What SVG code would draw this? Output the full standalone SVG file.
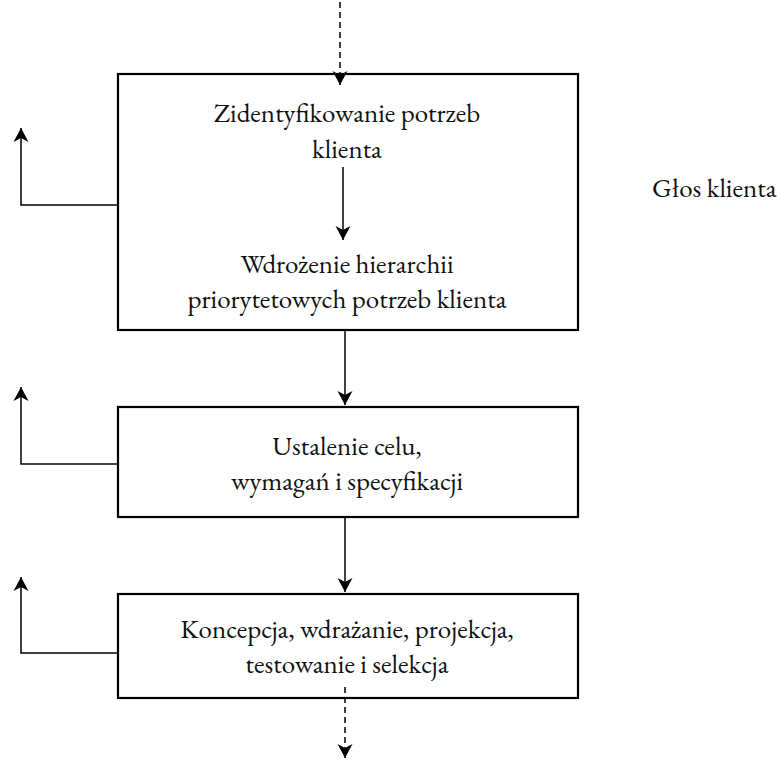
<svg xmlns="http://www.w3.org/2000/svg" width="780" height="760" viewBox="0 0 780 760">
<defs>
<style>
.box{fill:#fff;stroke:#000;stroke-width:2.2}
.ln{fill:none;stroke:#000;stroke-width:1.5}
.dash{stroke-dasharray:6,4}
text{font-family:"EB Garamond","Liberation Serif","DejaVu Serif",serif;font-size:27px;fill:#111;text-anchor:middle}
.lbl{text-anchor:start}
</style>
<marker id="ah" viewBox="-15 -8 16 16" refX="0" refY="0" markerWidth="16" markerHeight="16" markerUnits="userSpaceOnUse" orient="auto">
<path d="M0,0 L-14,-7.5 L-10,0 L-14,7.5 Z" fill="#000"/>
</marker>
</defs>
<rect width="780" height="760" fill="#fff"/>
<g id="node1">
<rect class="box" x="118" y="74" width="460" height="256"/>
<text x="347" y="122">Zidentyfikowanie potrzeb</text>
<text x="347" y="158">klienta</text>
<text x="347" y="273">Wdrożenie hierarchii</text>
<text x="347" y="308">priorytetowych potrzeb klienta</text>
</g>
<g id="node2">
<rect class="box" x="118" y="407" width="460" height="110"/>
<text x="347" y="455">Ustalenie celu,</text>
<text x="347" y="490">wymagań i specyfikacji</text>
</g>
<g id="node3">
<rect class="box" x="118" y="594" width="460" height="104"/>
<text x="347" y="638">Koncepcja, wdrażanie, projekcja,</text>
<text x="347" y="673">testowanie i selekcja</text>
</g>
<g id="label">
<text class="lbl" x="652" y="197">Głos klienta</text>
</g>
<g id="connectors">
<path class="ln dash" d="M340,2 V85" marker-end="url(#ah)"/>
<path class="ln" d="M343,167 V240" marker-end="url(#ah)"/>
<path class="ln" d="M345,330 V405" marker-end="url(#ah)"/>
<path class="ln" d="M345,517 V592" marker-end="url(#ah)"/>
<path class="ln dash" d="M345,687 V758" marker-end="url(#ah)"/>
<path class="ln" d="M118,205 H21 V128" marker-end="url(#ah)"/>
<path class="ln" d="M118,464 H21 V387" marker-end="url(#ah)"/>
<path class="ln" d="M118,653 H21 V577" marker-end="url(#ah)"/>
</g>
</svg>
